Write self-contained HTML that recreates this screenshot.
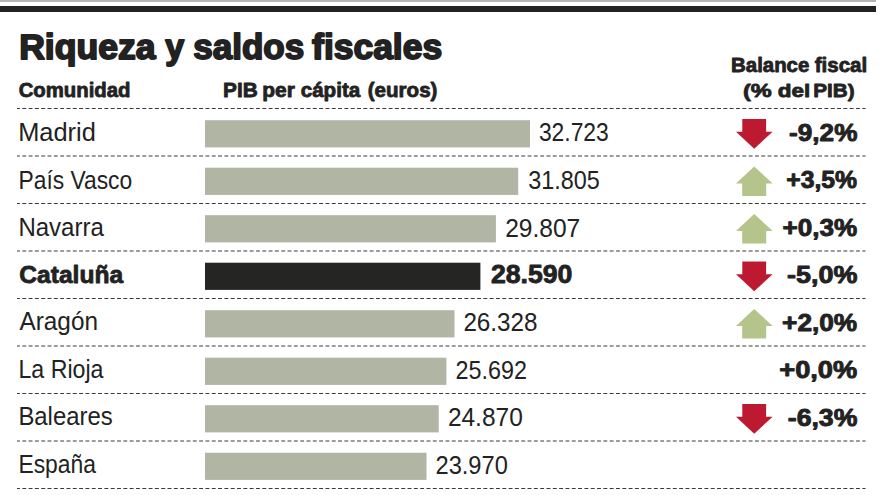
<!DOCTYPE html>
<html><head><meta charset="utf-8"><title>Riqueza y saldos fiscales</title>
<style>html,body{margin:0;padding:0;background:#fff;overflow:hidden;}svg{display:block;}text{font-family:"Liberation Sans",Arial,sans-serif;fill:#222;}</style>
</head><body>
<svg width="880" height="495" viewBox="0 0 880 495">
<rect width="880" height="495" fill="#fff"/>
<rect x="0" y="0" width="876" height="2" fill="#b4b4b4"/>
<rect x="0" y="6" width="876" height="6" fill="#222"/>
<line x1="17" y1="108.50" x2="865.5" y2="108.50" stroke="#3a3a3a" stroke-width="1.2" stroke-dasharray="3.9 2.416" stroke-dashoffset="1.02"/>
<line x1="17" y1="156.00" x2="865.5" y2="156.00" stroke="#3a3a3a" stroke-width="1.2" stroke-dasharray="3.9 2.416" stroke-dashoffset="1.02"/>
<line x1="17" y1="203.50" x2="865.5" y2="203.50" stroke="#3a3a3a" stroke-width="1.2" stroke-dasharray="3.9 2.416" stroke-dashoffset="1.02"/>
<line x1="17" y1="251.00" x2="865.5" y2="251.00" stroke="#3a3a3a" stroke-width="1.2" stroke-dasharray="3.9 2.416" stroke-dashoffset="1.02"/>
<line x1="17" y1="298.50" x2="865.5" y2="298.50" stroke="#3a3a3a" stroke-width="1.2" stroke-dasharray="3.9 2.416" stroke-dashoffset="1.02"/>
<line x1="17" y1="346.00" x2="865.5" y2="346.00" stroke="#3a3a3a" stroke-width="1.2" stroke-dasharray="3.9 2.416" stroke-dashoffset="1.02"/>
<line x1="17" y1="393.50" x2="865.5" y2="393.50" stroke="#3a3a3a" stroke-width="1.2" stroke-dasharray="3.9 2.416" stroke-dashoffset="1.02"/>
<line x1="17" y1="441.00" x2="865.5" y2="441.00" stroke="#3a3a3a" stroke-width="1.2" stroke-dasharray="3.9 2.416" stroke-dashoffset="1.02"/>
<line x1="17" y1="488.50" x2="865.5" y2="488.50" stroke="#3a3a3a" stroke-width="1.2" stroke-dasharray="3.9 2.416" stroke-dashoffset="1.02"/>
<rect x="205" y="120.20" width="325.00" height="27.2" fill="#b1b5a3"/>
<polygon points="742.3,118.90 766.1,118.90 766.1,131.80 772.6,131.80 754.2,148.80 736.0,131.80 742.3,131.80" fill="#bd1a32"/>
<rect x="205" y="167.70" width="313.20" height="27.2" fill="#b1b5a3"/>
<polygon points="754.2,166.50 772.7,183.50 766.2,183.50 766.2,196.10 742.2,196.10 742.2,183.50 736.0,183.50" fill="#b4c48a"/>
<rect x="205" y="215.20" width="290.90" height="27.2" fill="#b1b5a3"/>
<polygon points="754.2,214.00 772.7,231.00 766.2,231.00 766.2,243.60 742.2,243.60 742.2,231.00 736.0,231.00" fill="#b4c48a"/>
<rect x="205" y="262.70" width="275.40" height="27.2" fill="#252523"/>
<polygon points="742.3,261.40 766.1,261.40 766.1,274.30 772.6,274.30 754.2,291.30 736.0,274.30 742.3,274.30" fill="#bd1a32"/>
<rect x="205" y="310.20" width="249.50" height="27.2" fill="#b1b5a3"/>
<polygon points="754.2,309.00 772.7,326.00 766.2,326.00 766.2,338.60 742.2,338.60 742.2,326.00 736.0,326.00" fill="#b4c48a"/>
<rect x="205" y="357.70" width="241.40" height="27.2" fill="#b1b5a3"/>
<rect x="205" y="405.20" width="233.70" height="27.2" fill="#b1b5a3"/>
<polygon points="742.3,403.90 766.1,403.90 766.1,416.80 772.6,416.80 754.2,433.80 736.0,416.80 742.3,416.80" fill="#bd1a32"/>
<rect x="205" y="452.70" width="221.50" height="27.2" fill="#b1b5a3"/>
<text x="19.21" y="58.90" font-size="34.78" font-weight="bold" stroke="#222" stroke-width="1.8" stroke-linejoin="round" textLength="136.28" lengthAdjust="spacingAndGlyphs">Riqueza</text>
<text x="165.26" y="58.90" font-size="34.78" font-weight="bold" stroke="#222" stroke-width="1.8" stroke-linejoin="round" textLength="18.95" lengthAdjust="spacingAndGlyphs">y</text>
<text x="193.30" y="58.90" font-size="34.78" font-weight="bold" stroke="#222" stroke-width="1.8" stroke-linejoin="round" textLength="110.93" lengthAdjust="spacingAndGlyphs">saldos</text>
<text x="312.09" y="58.90" font-size="34.78" font-weight="bold" stroke="#222" stroke-width="1.8" stroke-linejoin="round" textLength="130.01" lengthAdjust="spacingAndGlyphs">fiscales</text>
<text x="18.69" y="97.30" font-size="20.57" font-weight="bold" stroke="#222" stroke-width="0.8" stroke-linejoin="round" textLength="111.83" lengthAdjust="spacingAndGlyphs">Comunidad</text>
<text x="223.05" y="97.30" font-size="20.14" font-weight="bold" stroke="#222" stroke-width="0.8" stroke-linejoin="round" textLength="34.63" lengthAdjust="spacingAndGlyphs">PIB</text>
<text x="262.33" y="97.30" font-size="20.14" font-weight="bold" stroke="#222" stroke-width="0.8" stroke-linejoin="round" textLength="32.61" lengthAdjust="spacingAndGlyphs">per</text>
<text x="300.67" y="97.30" font-size="20.14" font-weight="bold" stroke="#222" stroke-width="0.8" stroke-linejoin="round" textLength="59.62" lengthAdjust="spacingAndGlyphs">cápita</text>
<text x="367.77" y="97.30" font-size="20.14" font-weight="bold" stroke="#222" stroke-width="0.8" stroke-linejoin="round" textLength="69.64" lengthAdjust="spacingAndGlyphs">(euros)</text>
<text x="731.07" y="72.30" font-size="19.71" font-weight="bold" stroke="#222" stroke-width="0.8" stroke-linejoin="round" textLength="78.25" lengthAdjust="spacingAndGlyphs">Balance</text>
<text x="814.69" y="72.30" font-size="19.71" font-weight="bold" stroke="#222" stroke-width="0.8" stroke-linejoin="round" textLength="52.49" lengthAdjust="spacingAndGlyphs">fiscal</text>
<text x="743.02" y="96.50" font-size="19.28" font-weight="bold" stroke="#222" stroke-width="0.8" stroke-linejoin="round" textLength="28.73" lengthAdjust="spacingAndGlyphs">(%</text>
<text x="777.70" y="96.50" font-size="19.28" font-weight="bold" stroke="#222" stroke-width="0.8" stroke-linejoin="round" textLength="32.48" lengthAdjust="spacingAndGlyphs">del</text>
<text x="813.25" y="96.50" font-size="19.28" font-weight="bold" stroke="#222" stroke-width="0.8" stroke-linejoin="round" textLength="41.38" lengthAdjust="spacingAndGlyphs">PIB)</text>
<text x="18.17" y="140.90" font-size="26.38" textLength="77.63" lengthAdjust="spacingAndGlyphs">Madrid</text>
<text x="538.89" y="141.10" font-size="26.29" textLength="69.93" lengthAdjust="spacingAndGlyphs">32.723</text>
<text x="789.10" y="140.65" font-size="24.43" font-weight="bold" stroke="#222" stroke-width="0.9" stroke-linejoin="round" textLength="68.29" lengthAdjust="spacingAndGlyphs">-9,2%</text>
<text x="18.47" y="189.00" font-size="26.38" textLength="113.73" lengthAdjust="spacingAndGlyphs">País Vasco</text>
<text x="528.16" y="188.70" font-size="26.29" textLength="71.54" lengthAdjust="spacingAndGlyphs">31.805</text>
<text x="786.26" y="188.15" font-size="24.43" font-weight="bold" stroke="#222" stroke-width="0.9" stroke-linejoin="round" textLength="70.87" lengthAdjust="spacingAndGlyphs">+3,5%</text>
<text x="18.38" y="235.50" font-size="26.38" textLength="85.44" lengthAdjust="spacingAndGlyphs">Navarra</text>
<text x="505.17" y="236.80" font-size="26.29" textLength="75.12" lengthAdjust="spacingAndGlyphs">29.807</text>
<text x="782.41" y="235.65" font-size="24.43" font-weight="bold" stroke="#222" stroke-width="0.9" stroke-linejoin="round" textLength="74.75" lengthAdjust="spacingAndGlyphs">+0,3%</text>
<text x="19.32" y="282.60" font-size="24.00" font-weight="bold" stroke="#222" stroke-width="0.8" stroke-linejoin="round" textLength="103.82" lengthAdjust="spacingAndGlyphs">Cataluña</text>
<text x="490.90" y="282.80" font-size="25.14" font-weight="bold" stroke="#222" stroke-width="0.8" stroke-linejoin="round" textLength="81.53" lengthAdjust="spacingAndGlyphs">28.590</text>
<text x="787.07" y="283.15" font-size="24.43" font-weight="bold" stroke="#222" stroke-width="0.9" stroke-linejoin="round" textLength="70.35" lengthAdjust="spacingAndGlyphs">-5,0%</text>
<text x="19.50" y="330.20" font-size="26.38" textLength="78.47" lengthAdjust="spacingAndGlyphs">Aragón</text>
<text x="463.39" y="331.30" font-size="26.29" textLength="74.19" lengthAdjust="spacingAndGlyphs">26.328</text>
<text x="782.10" y="330.65" font-size="24.43" font-weight="bold" stroke="#222" stroke-width="0.9" stroke-linejoin="round" textLength="75.06" lengthAdjust="spacingAndGlyphs">+2,0%</text>
<text x="18.45" y="378.00" font-size="26.38" textLength="85.03" lengthAdjust="spacingAndGlyphs">La Rioja</text>
<text x="455.53" y="378.50" font-size="26.29" textLength="71.40" lengthAdjust="spacingAndGlyphs">25.692</text>
<text x="779.26" y="378.15" font-size="24.43" font-weight="bold" stroke="#222" stroke-width="0.9" stroke-linejoin="round" textLength="77.92" lengthAdjust="spacingAndGlyphs">+0,0%</text>
<text x="18.39" y="425.20" font-size="26.38" textLength="94.29" lengthAdjust="spacingAndGlyphs">Baleares</text>
<text x="447.88" y="425.90" font-size="26.29" textLength="74.87" lengthAdjust="spacingAndGlyphs">24.870</text>
<text x="787.78" y="425.65" font-size="24.43" font-weight="bold" stroke="#222" stroke-width="0.9" stroke-linejoin="round" textLength="69.63" lengthAdjust="spacingAndGlyphs">-6,3%</text>
<text x="18.47" y="472.50" font-size="26.38" textLength="77.47" lengthAdjust="spacingAndGlyphs">España</text>
<text x="435.52" y="473.50" font-size="26.29" textLength="72.29" lengthAdjust="spacingAndGlyphs">23.970</text>
</svg>
</body></html>
